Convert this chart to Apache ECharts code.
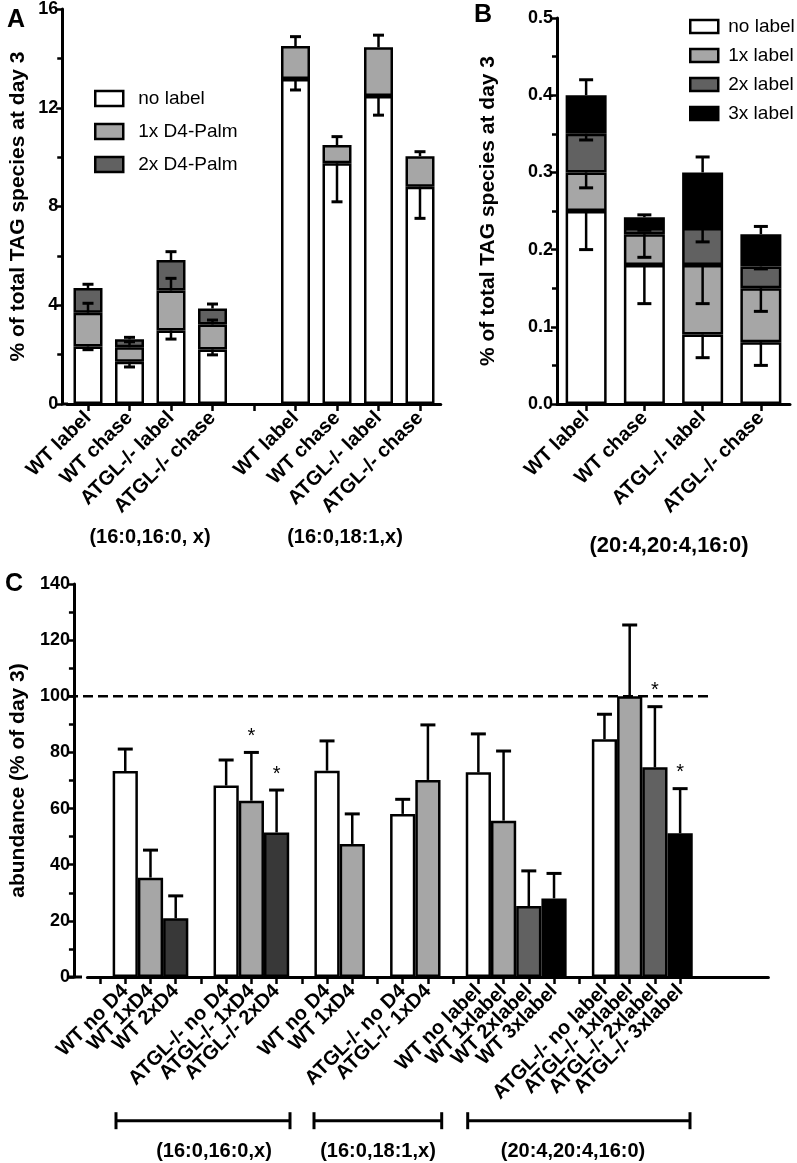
<!DOCTYPE html>
<html><head><meta charset="utf-8">
<script src="https://cdn.jsdelivr.net/npm/echarts@6/dist/echarts.min.js"></script>
<style>html,body{margin:0;padding:0;background:#fff}#c{width:797px;height:1163px}</style>
</head><body><div id="c"></div>
<script>
// ---------- Panel A data ----------
const catsA = ['WT label','WT chase','ATGL-/- label','ATGL-/- chase','','WT label','WT chase','ATGL-/- label','ATGL-/- chase'];
const noLabelA = [2.33, 1.71, 2.98, 2.21, null, 13.16, 9.75, 12.48, 8.80];
const oneXA    = [1.37, 0.59, 1.62, 1.01, null, 1.34, 0.74, 1.97, 1.24];
const twoXA    = [1.00, 0.32, 1.23, 0.65, null, null, null, null, null];
const noLabelErrA = [0.13, 0.21, 0.35, 0.22, null, 0.44, 1.56, 0.78, 1.28]; // drawn downward
const oneXErrA    = [0.38, 0.22, 0.49, 0.18, null, 0.38, 0.34, 0.49, 0.18]; // upward
const twoXErrA    = [0.15, 0.08, 0.34, 0.18, null, null, null, null, null]; // upward
const groupsA = ['(16:0,16:0, x)', '(16:0,18:1,x)'];
// ---------- Panel B data ----------
const catsB = ['WT label','WT chase','ATGL-/- label','ATGL-/- chase'];
const noLabelB = [0.25, 0.18, 0.09, 0.08];
const oneXB    = [0.05, 0.04, 0.09, 0.07];
const twoXB    = [0.05, 0.008, 0.048, 0.028];
const threeXB  = [0.05, 0.014, 0.072, 0.042];
const noLabelErrB = [0.05, 0.05, 0.03, 0.03];    // downward
const oneXErrB    = [0.02, 0.03, 0.05, 0.03];    // downward
const twoXErrB    = [0.008, 0.003, 0.018, 0.003]; // downward
const threeXErrB  = [0.02, 0.003, 0.02, 0.01];   // upward
const groupB = '(20:4,20:4,16:0)';
// ---------- Panel C data ----------
const catsC = ['','WT no D4','WT 1xD4','WT 2xD4','','ATGL-/- no D4','ATGL-/- 1xD4','ATGL-/- 2xD4','',
  'WT no D4','WT 1xD4','','ATGL-/- no D4','ATGL-/- 1xD4','',
  'WT no label','WT 1xlabel','WT 2xlabel','WT 3xlabel','',
  'ATGL-/- no label','ATGL-/- 1xlabel','ATGL-/- 2xlabel','ATGL-/- 3xlabel','','',''];
const valuesC = [null,73.4,35.4,20.9,null,68.2,62.8,51.5,null,73.5,47.4,null,58.1,70.2,null,72.9,55.7,25.3,28.0,null,84.7,100,74.7,51.2,null,null,null];
const errC     = [null,7.8,9.8,8.0,null,9.1,17.2,15.1,null,10.6,10.7,null,5.2,19.6,null,13.7,24.8,12.5,8.9,null,8.9,25.4,21.6,15.9,null,null,null];
const kindC    = [null,'no','1x','2xD4',null,'no','1x','2xD4',null,'no','1x',null,'no','1x',null,'no','1x','2x','3x',null,'no','1x','2x','3x',null,null,null];
const starC    = [0,0,0,0,0,0,1,1,0,0,0,0,0,0,0,0,0,0,0,0,0,0,1,1,0,0,0];
const refLineC = 100;
const groupsC = ['(16:0,16:0,x)', '(16:0,18:1,x)', '(20:4,20:4,16:0)'];
const tickCountC = 24;

// ---------- styles ----------
const FONT = '"Liberation Sans", Arial, sans-serif';
const WHITE = '#ffffff', LIGHT = '#a6a6a6', MID = '#616161', DARK = '#383838', BLACK = '#000000';
const colorKind = {no: WHITE, '1x': LIGHT, '2x': MID, '2xD4': DARK, '3x': BLACK};
const barBorder = {borderColor: '#000', borderWidth: 2.5};

function errRender(cap) {
  return function (params, api) {
    const c = api.value(0);
    const a = api.coord([c, api.value(1)]);
    const b = api.coord([c, api.value(2)]);
    return {type: 'group', children: [
      {type: 'line', shape: {x1: a[0], y1: a[1], x2: b[0], y2: b[1]}, style: {stroke: '#000', lineWidth: 2.5}},
      {type: 'line', shape: {x1: b[0] - cap / 2, y1: b[1], x2: b[0] + cap / 2, y2: b[1]}, style: {stroke: '#000', lineWidth: 3}}
    ]};
  };
}
function stackedErr(segs, errs, dirs) {
  const out = [];
  const n = segs[0].length;
  for (let i = 0; i < n; i++) {
    let top = 0;
    for (let s = 0; s < segs.length; s++) {
      const v = segs[s][i];
      if (v == null) continue;
      top += v;
      const e = errs[s][i];
      if (e == null) continue;
      out.push([i, top, dirs[s] > 0 ? top + e : top - e]);
    }
  }
  return out;
}

function yAxisBase(extra) {
  return Object.assign({
    type: 'value',
    axisLine: {show: true, lineStyle: {color: '#000', width: 3}},
    axisTick: {show: true, length: 6, lineStyle: {color: '#000', width: 2.5}},
    minorTick: {show: true, splitNumber: 2, length: 5, lineStyle: {color: '#000', width: 2.5}},
    splitLine: {show: false},
    axisLabel: {color: '#000', fontSize: 18, fontWeight: 'bold', fontFamily: FONT, margin: 4},
    nameLocation: 'middle', nameRotate: 90,
    nameTextStyle: {color: '#000', fontSize: 21, fontWeight: 'bold', fontFamily: FONT}
  }, extra);
}
function xAxisBase(extra) {
  return Object.assign({
    type: 'category',
    boundaryGap: true,
    axisLine: {show: true, lineStyle: {color: '#000', width: 3}},
    axisTick: {show: true, alignWithLabel: true, length: 7, lineStyle: {color: '#000', width: 2.5}},
    axisLabel: {color: '#000', fontSize: 20, fontWeight: 'bold', fontFamily: FONT, rotate: 45, interval: 0, margin: 11},
    splitLine: {show: false}
  }, extra);
}

const chart = echarts.init(document.getElementById('c'), null, {renderer: 'canvas'});

const errA = stackedErr([noLabelA, oneXA, twoXA], [noLabelErrA, oneXErrA, twoXErrA], [-1, 1, 1]);
const errB = stackedErr([noLabelB, oneXB, twoXB, threeXB], [noLabelErrB, oneXErrB, twoXErrB, threeXErrB], [-1, -1, -1, 1]);
const errCdata = [];
const starData = [];
valuesC.forEach((v, i) => {
  if (v == null) return;
  errCdata.push([i, v, v + errC[i]]);
  if (starC[i]) starData.push([i, v + errC[i]]);
});

const option = {
  animation: false,
  backgroundColor: '#fff',
  textStyle: {fontFamily: FONT},
  grid: [
    {left: 67.25, top: 9, width: 373.5, height: 395, containLabel: false},
    {left: 557, top: 18, width: 233, height: 386, containLabel: false},
    {left: 81.5, top: 584, width: 686.9, height: 393, containLabel: false}
  ],
  xAxis: [
    xAxisBase({gridIndex: 0, data: catsA}),
    xAxisBase({gridIndex: 1, data: catsB}),
    xAxisBase({gridIndex: 2, data: catsC, axisTick: {show: true, alignWithLabel: true, length: 7, interval: (idx) => idx < tickCountC, lineStyle: {color: '#000', width: 2.5}}})
  ],
  yAxis: [
    yAxisBase({gridIndex: 0, min: 0, max: 16, interval: 4, offset: 5, name: '% of total TAG species at day 3', nameGap: 34}),
    yAxisBase({gridIndex: 1, min: 0, max: 0.5, interval: 0.1, name: '% of total TAG species at day 3', nameGap: 58,
      axisLabel: {color: '#000', fontSize: 18, fontWeight: 'bold', fontFamily: FONT, margin: 4, formatter: v => v.toFixed(1)}}),
    yAxisBase({gridIndex: 2, min: 0, max: 140, interval: 20, offset: 13.5, name: 'abundance (% of day 3)', nameGap: 36})
  ],
  legend: [
    {data: ['no label', '1x D4-Palm', '2x D4-Palm'], orient: 'vertical', left: 89, top: 84, itemWidth: 28, itemHeight: 15, itemGap: 14,
      icon: 'rect', selectedMode: false, textStyle: {fontSize: 19, color: '#000', fontFamily: FONT, padding: [0, 0, 0, 10]},
      itemStyle: {borderColor: '#000', borderWidth: 2.5}},
    {data: ['no label', '1x label', '2x label', '3x label'], orient: 'vertical', left: 684, top: 12, itemWidth: 28, itemHeight: 13, itemGap: 10,
      icon: 'rect', selectedMode: false, textStyle: {fontSize: 19, color: '#000', fontFamily: FONT, padding: [0, 0, 0, 5]},
      itemStyle: {borderColor: '#000', borderWidth: 2.5}}
  ],
  series: [
    {name: 'no label', type: 'bar', xAxisIndex: 0, yAxisIndex: 0, stack: 'A', barWidth: 29, data: noLabelA, itemStyle: Object.assign({color: WHITE}, barBorder)},
    {name: '1x D4-Palm', type: 'bar', xAxisIndex: 0, yAxisIndex: 0, stack: 'A', barWidth: 29, data: oneXA, itemStyle: Object.assign({color: LIGHT}, barBorder)},
    {name: '2x D4-Palm', type: 'bar', xAxisIndex: 0, yAxisIndex: 0, stack: 'A', barWidth: 29, data: twoXA, itemStyle: Object.assign({color: MID}, barBorder)},
    {type: 'custom', xAxisIndex: 0, yAxisIndex: 0, z: 10, renderItem: errRender(11), data: errA, encode: {x: 0, y: [1, 2]}},

    {name: 'no label', type: 'bar', xAxisIndex: 1, yAxisIndex: 1, stack: 'B', barWidth: 41, data: noLabelB, itemStyle: Object.assign({color: WHITE}, barBorder)},
    {name: '1x label', type: 'bar', xAxisIndex: 1, yAxisIndex: 1, stack: 'B', barWidth: 41, data: oneXB, itemStyle: Object.assign({color: LIGHT}, barBorder)},
    {name: '2x label', type: 'bar', xAxisIndex: 1, yAxisIndex: 1, stack: 'B', barWidth: 41, data: twoXB, itemStyle: Object.assign({color: MID}, barBorder)},
    {name: '3x label', type: 'bar', xAxisIndex: 1, yAxisIndex: 1, stack: 'B', barWidth: 41, data: threeXB, itemStyle: Object.assign({color: BLACK}, barBorder)},
    {type: 'custom', xAxisIndex: 1, yAxisIndex: 1, z: 10, renderItem: errRender(14), data: errB, encode: {x: 0, y: [1, 2]}},

    {name: 'abundance', type: 'bar', xAxisIndex: 2, yAxisIndex: 2, barCategoryGap: '0%',
      data: valuesC.map((v, i) => v == null ? null : {value: v, itemStyle: Object.assign({color: colorKind[kindC[i]]}, barBorder)})},
    {type: 'custom', xAxisIndex: 2, yAxisIndex: 2, z: 10, renderItem: errRender(15), data: errCdata, encode: {x: 0, y: [1, 2]}},
    {type: 'custom', xAxisIndex: 2, yAxisIndex: 2, z: 11, data: starData, encode: {x: 0, y: 1},
      renderItem: function (params, api) {
        const p = api.coord([api.value(0), api.value(1)]);
        return {type: 'text', x: p[0], y: p[1] - 6, style: {text: '*', fontSize: 20, fontFamily: FONT, fill: '#000', align: 'center', verticalAlign: 'bottom'}};
      }}
  ]
};
chart.setOption(option);

// decorations: panel letters, group labels, brackets, dashed reference line, axis-line joins
const yRef = chart.convertToPixel({yAxisIndex: 2}, refLineC);
const y0A = chart.convertToPixel({yAxisIndex: 0}, 0);
const y0C = chart.convertToPixel({yAxisIndex: 2}, 0);
const txt = (x, y, t, size, bold) => ({type: 'text', x: x, y: y, style: {text: t, fontSize: size, fontWeight: bold ? 'bold' : 'normal', fontFamily: FONT, fill: '#000', align: 'center', verticalAlign: 'middle'}});
const ln = (x1, y1, x2, y2, w, dash) => ({type: 'line', shape: {x1, y1, x2, y2}, style: {stroke: '#000', lineWidth: w, lineDash: dash || null}});
const bracket = (x1, x2, y) => [ln(x1, y, x2, y, 3), ln(x1, y - 8.5, x1, y + 8.5, 3), ln(x2, y - 8.5, x2, y + 8.5, 3)];
chart.setOption({graphic: [
  txt(16, 20, 'A', 25, true), txt(483, 15, 'B', 25, true), txt(14, 584, 'C', 25, true),
  txt(150, 537, groupsA[0], 20, true), txt(345, 537, groupsA[1], 20, true),
  txt(669, 546, groupB, 22, true),
  ln(61, y0A, 68, y0A, 3), ln(67, y0C, 82, y0C, 3),
  ln(68, yRef, 710, yRef, 2.5, [10, 5]),
  ...bracket(116, 290, 1120.7), ...bracket(314, 441.7, 1120.7), ...bracket(467.7, 690, 1120.7),
  txt(214, 1151.7, groupsC[0], 20, true), txt(378, 1151.7, groupsC[1], 20, true), txt(573, 1151.7, groupsC[2], 20, true)
]});
</script>
</body></html>
